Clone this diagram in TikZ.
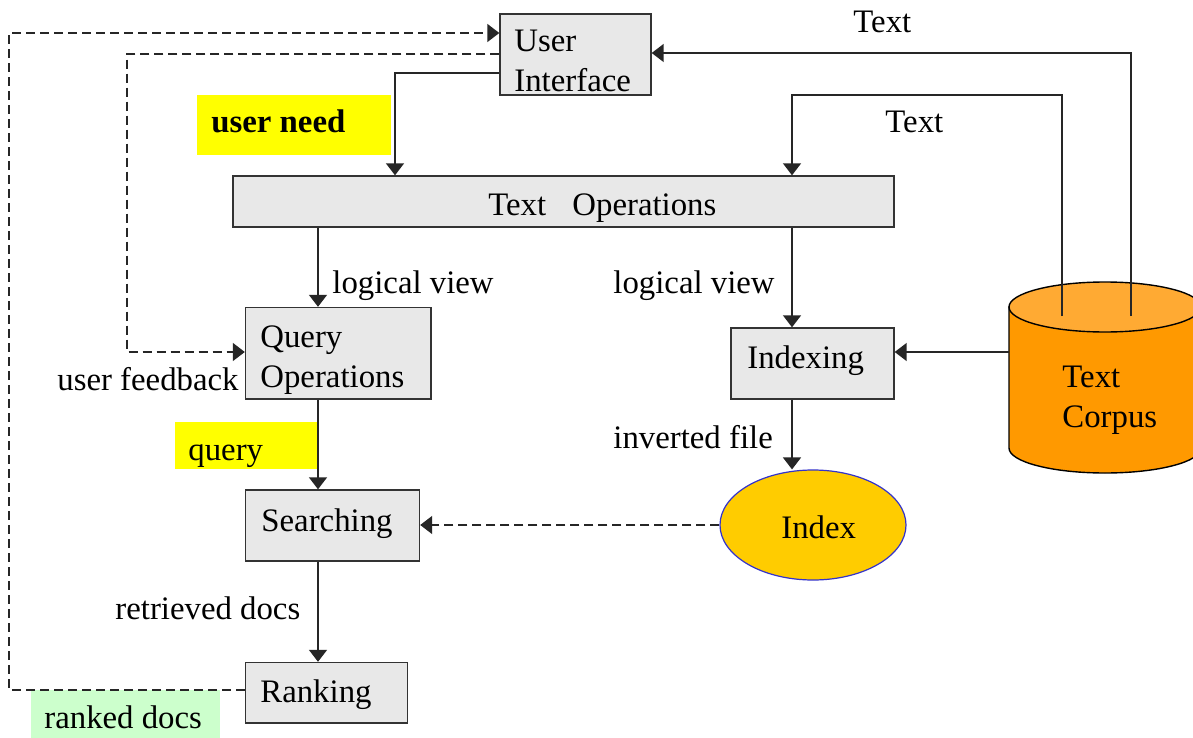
\documentclass[tikz,border=0pt]{standalone}
\usepackage{fontspec}
\setmainfont{Liberation Serif}
\usetikzlibrary{arrows.meta,shapes.geometric}
\definecolor{boxfill}{HTML}{E8E8E8}
\definecolor{boxline}{HTML}{333333}
\definecolor{hlyellow}{HTML}{FFFF00}
\definecolor{hlgreen}{HTML}{CCFFCC}
\definecolor{indexfill}{HTML}{FFCC00}
\definecolor{indexline}{HTML}{3333CC}
\definecolor{corpusbody}{HTML}{FF9900}
\definecolor{corpustop}{HTML}{FFAA33}
\newcommand{\diafont}{\fontsize{16.4pt}{19.5pt}\selectfont}
\tikzset{
  box/.style={draw=boxline, fill=boxfill, line width=0.7pt, inner sep=0pt, rectangle},
  txt/.style={anchor=base west, inner sep=0pt, font=\diafont},
  hl/.style={anchor=north west, inner sep=0pt, rectangle},
  arr/.style={draw=black!85, line width=0.75pt, -{Triangle[length=6pt,width=9pt]}},
  darr/.style={arr, dash pattern=on 4.5pt off 2.5pt},
}
\begin{document}
\begin{tikzpicture}[x=0.5pt,y=-0.5pt]
\useasboundingbox[fill=white] (0,0) rectangle (1193,738);

% highlight backgrounds
\node[hl, fill=hlyellow, minimum width=97pt, minimum height=30pt] (needbg) at (197,95) {};
\node[hl, fill=hlyellow, minimum width=72pt, minimum height=23.5pt] (querybg) at (175,422) {};
\node[hl, fill=hlgreen, minimum width=94.5pt, minimum height=24pt] (rankedbg) at (31,690) {};

% boxes
\node[box, minimum width=75.5pt, minimum height=40.5pt] (ui) at (575.5,54.5) {};
\node[box, minimum width=330.5pt, minimum height=25.5pt] (tops) at (563.5,201.5) {};
\node[box, minimum width=92.75pt, minimum height=45.75pt] (qo) at (338.25,353.25) {};
\node[box, minimum width=81.5pt, minimum height=35.5pt] (idxg) at (812.5,363.5) {};
\node[box, minimum width=87pt, minimum height=35.5pt] (srch) at (332.5,525.5) {};
\node[box, minimum width=81pt, minimum height=30.25pt] (rank) at (326.5,692.75) {};
\node[ellipse, draw=indexline, fill=indexfill, line width=0.6pt, inner sep=0pt,
      minimum width=93pt, minimum height=55pt] (index) at (813,525) {};

% text corpus cylinder
\path[fill=corpusbody, draw=black, line width=0.7pt]
  (1009,307) -- (1009,448) arc[start angle=180, end angle=360, x radius=48pt, y radius=12.5pt]
  -- (1201,307) -- cycle;
\path[fill=corpustop, draw=black, line width=0.7pt]
  (1105,307) ellipse[x radius=48pt, y radius=12.5pt];
\coordinate (corpA) at (1062,316);
\coordinate (corpB) at (1131,316);
\coordinate (corpL) at (1009,352);

% texts
\node[txt] (tUser) at (514,52) {User};
\node[txt] (tInterface) at (514,92) {Interface};
\node[txt] (tText1) at (853,33) {Text};
\node[txt] (tText2) at (885,133) {Text};
\node[txt, font=\diafont\bfseries] (tNeed) at (211,133) {user need};
\node[txt] (tOps) at (488,215) {Text\hspace{0.8em}Operations};
\node[txt] (tLV1) at (332,293) {logical view};
\node[txt] (tLV2) at (613,293) {logical view};
\node[txt] (tQuery) at (260,347) {Query};
\node[txt] (tQOps) at (260,387) {Operations};
\node[txt] (tFeed) at (57,390) {user feedback};
\node[txt] (tIndexing) at (747,368) {Indexing};
\node[txt] (tCT) at (1062,387) {Text};
\node[txt] (tCC) at (1062,427) {Corpus};
\node[txt] (tq) at (188,460) {query};
\node[txt] (tInv) at (613,448) {inverted file};
\node[txt] (tIndex) at (781,538) {Index};
\node[txt] (tSearch) at (261,531) {Searching};
\node[txt] (tRet) at (115,619) {retrieved docs};
\node[txt] (tRank) at (260,702) {Ranking};
\node[txt] (tRanked) at (44,728) {ranked docs};

% connectors
\draw[arr] (ui.west |- 0,73) -| (tops.north -| 395,0);
\draw[darr] (ui.west |- 0,54) -| (127,352) -- (qo.west |- 0,352);
\draw[darr] (rank.west |- 0,690) -| (9,33) -- (ui.west |- 0,33);
\draw[arr] (corpB) |- (ui.east |- 0,53);
\draw[arr] (corpA) |- (792,95) -- (tops.north -| 792,0);
\draw[arr] (tops.south -| 318,0) -- (qo.north -| 318,0);
\draw[arr] (tops.south -| 792,0) -- (idxg.north -| 792,0);
\draw[arr] (corpL) -- (idxg.east |- corpL);
\draw[arr] (idxg.south -| 792,0) -- (index.north -| 792,0);
\draw[darr] (index.west) -- (srch.east |- index.west);
\draw[arr] (qo.south -| 318,0) -- (srch.north -| 318,0);
\draw[arr] (srch.south -| 318,0) -- (rank.north -| 318,0);
\end{tikzpicture}
\end{document}
